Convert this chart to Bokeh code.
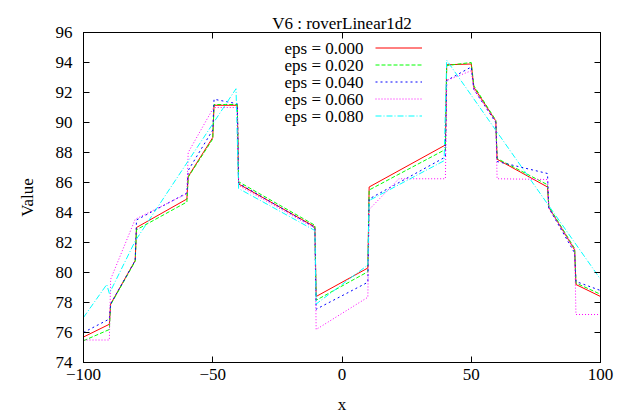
from bokeh.plotting import figure
from bokeh.models import (Range1d, LinearAxis, FixedTicker, CustomJSTickFormatter,
                          Legend, LegendItem, Label)
from bokeh.embed import file_html
from bokeh.resources import INLINE

FONT = "Liberation Serif"

# ---------------- data ----------------
title_text = "V6 : roverLinear1d2"
x_label = "x"
y_label = "Value"
x_ticks = [-100, -50, 0, 50, 100]
y_ticks = [74, 76, 78, 80, 82, 84, 86, 88, 90, 92, 94, 96]

x_eps000 = [-100, -90, -89.5, -80, -79.5, -60, -59.5, -50, -49.5, -40.5, -40, -10.5, -10,
            10, 10.5, 40, 40.5, 50, 51, 59.5, 60, 79.5, 80, 90, 90.5, 100]
y_eps000 = [75.7, 76.55, 77.9, 80.8, 83.0, 84.9, 86.4, 89.0, 91.15, 91.15, 85.9, 83.05, 78.4,
            80.3, 85.7, 88.5, 93.85, 93.9, 92.35, 90.1, 87.55, 85.7, 84.35, 81.5, 79.2, 78.4]

x_eps020 = x_eps000
y_eps020 = [75.45, 76.2, 77.85, 80.75, 82.85, 84.7, 86.35, 88.9, 91.2, 91.2, 86.05, 83.15, 78.15,
            80.05, 85.5, 88.2, 93.8, 94.0, 92.45, 90.15, 87.6, 85.85, 84.4, 81.6, 79.3, 78.55]

x_eps040 = x_eps000
y_eps040 = [76.0, 76.9, 77.9, 80.8, 83.5, 85.3, 86.8, 89.5, 91.55, 91.25, 85.95, 83.0, 77.55,
            79.35, 84.9, 87.7, 92.8, 93.7, 92.2, 90.0, 87.4, 86.6, 84.3, 81.3, 79.4, 78.8]

x_eps060 = [-100, -90, -89.5, -80, -60, -59.5, -50, -49.5, -40.5, -40, -10.5, -10,
            10, 10.5, 22, 40, 40.5, 50, 51, 59.5, 60, 79.5, 80, 90, 90.5, 100]
y_eps060 = [75.5, 75.5, 79.55, 83.55, 85.25, 88.0, 90.9, 91.0, 91.0, 85.8, 82.95, 76.2,
            78.35, 84.2, 86.25, 86.25, 92.8, 93.45, 92.2, 90.1, 86.25, 86.2, 84.3, 81.55, 77.2, 77.2]

x_eps080 = [-100, -91, -90, -80, -41, -40, -10.5, -10, 10, 10.5, 39.5, 40.5, 80, 100]
y_eps080 = [77.0, 79.2, 78.6, 82.1, 92.25, 85.6, 82.8, 77.9, 80.5, 84.8, 87.45, 94.15, 84.45, 79.55]

series_names = ["eps = 0.000", "eps = 0.020", "eps = 0.040", "eps = 0.060", "eps = 0.080"]
series_x = [x_eps000, x_eps020, x_eps040, x_eps060, x_eps080]
series_y = [y_eps000, y_eps020, y_eps040, y_eps060, y_eps080]

# ---------------- styles ----------------
colors = ["#ff0000", "#00ff00", "#0000ff", "#ff00ff", "#00ffff"]
dashes = ["solid", "4 2", "2 3", "1 2", "6 2 1 2"]

frame_top, frame_bottom, frame_left, frame_right = 32, 362, 83, 600

p = figure(width=639, height=416, output_backend="svg", toolbar_location=None,
           x_range=Range1d(-100, 100), y_range=Range1d(74, 96),
           min_border_left=frame_left, min_border_right=639 - frame_right,
           min_border_top=frame_top, min_border_bottom=416 - frame_bottom,
           title=title_text)

p.title.align = "center"
p.title.text_font = FONT
p.title.text_font_size = "17px"
p.title.text_font_style = "normal"
p.title.text_color = "black"
p.title.standoff = 0

p.xgrid.visible = False
p.ygrid.visible = False
p.outline_line_color = "black"
p.outline_line_width = 1
p.background_fill_color = "white"
p.border_fill_color = "white"


def style_axis(ax, ticks):
    ax.ticker = FixedTicker(ticks=ticks, minor_ticks=[])
    ax.major_tick_in = 6
    ax.major_tick_out = 0
    ax.minor_tick_in = 0
    ax.minor_tick_out = 0
    ax.axis_line_color = "black"
    ax.major_tick_line_color = "black"
    ax.major_label_text_font = FONT
    ax.major_label_text_font_size = "17px"
    ax.major_label_text_color = "black"
    ax.axis_label_text_font = FONT
    ax.axis_label_text_font_size = "17px"
    ax.axis_label_text_font_style = "normal"
    ax.axis_label_text_color = "black"


style_axis(p.xaxis[0], x_ticks)
style_axis(p.yaxis[0], y_ticks)
p.xaxis[0].axis_label = x_label
p.yaxis[0].axis_label = y_label
p.xaxis[0].major_label_standoff = 6
p.xaxis[0].axis_label_standoff = 12
p.yaxis[0].major_label_standoff = 11
p.yaxis[0].axis_label_standoff = 16

blank = CustomJSTickFormatter(code="return ''")
top_axis = LinearAxis(formatter=blank)
style_axis(top_axis, x_ticks)
top_axis.major_label_text_font_size = "1px"
top_axis.major_label_standoff = 11
p.add_layout(top_axis, "above")

right_axis = LinearAxis(formatter=blank)
style_axis(right_axis, y_ticks)
right_axis.major_label_text_font_size = "1px"
right_axis.major_label_standoff = 0
p.add_layout(right_axis, "right")

renderers = []
for xs, ys, c, d in zip(series_x, series_y, colors, dashes):
    r = p.line(xs, ys, line_color=c, line_dash=d, line_width=1)
    renderers.append(r)

# legend: text on the left (labels), samples on the right (legend)
row_top = 47.7   # screen y of first row centre
row_pitch = 17
legend = Legend(items=[LegendItem(label=" ", renderers=[r]) for r in renderers],
                location=(375 - frame_left, frame_bottom - (row_top - row_pitch / 2 + row_pitch * 5)),
                glyph_width=47, glyph_height=row_pitch, label_height=row_pitch, label_width=1,
                spacing=0, padding=0, margin=0, border_line_color=None,
                background_fill_alpha=0, label_standoff=0, label_text_font_size="1px")
p.add_layout(legend)

for i, name in enumerate(series_names):
    p.add_layout(Label(x=363 - frame_left, y=frame_bottom - (row_top + row_pitch * i),
                       x_units="screen", y_units="screen", text=name,
                       text_align="right", text_baseline="middle",
                       text_font=FONT, text_font_size="17px", text_color="black"))

open("out.html", "w").write(file_html(p, INLINE))
